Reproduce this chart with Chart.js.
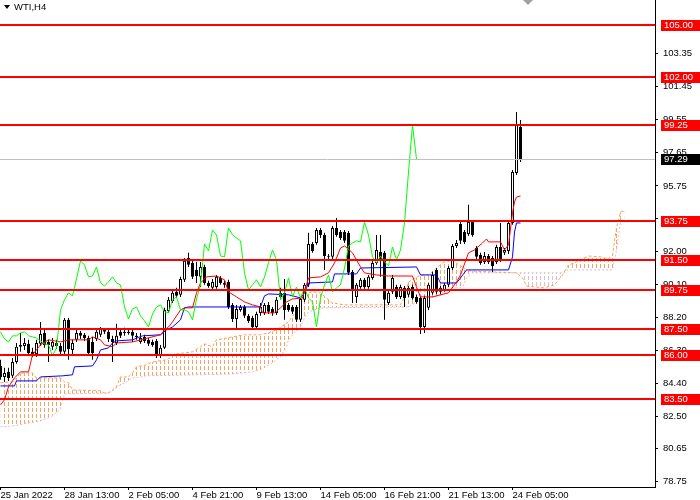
<!DOCTYPE html>
<html><head><meta charset="utf-8">
<script src="https://cdn.jsdelivr.net/npm/chart.js@4.4.0/dist/chart.umd.min.js"></script>
<style>html,body{margin:0;padding:0;background:#fff;overflow:hidden}#wrap{width:700px;height:500px;position:relative}</style>
</head><body><div id="wrap"><canvas id="c" width="700" height="500"></canvas></div>
<script>
const symbolLabel = 'WTI,H4';
// H4 candles, bar index 0 = 25 Jan 2022
const opens = [85.40,84.77,85.06,84.83,85.63,86.61,86.55,86.67,86.21,86.09,
86.67,87.30,86.78,86.50,86.72,86.55,86.21,88.05,86.32,86.90,
87.30,87.19,87.01,86.78,86.95,87.19,87.47,87.36,86.95,86.72,
87.36,87.36,87.30,87.36,87.13,86.78,87.07,86.90,86.78,86.84,
85.98,86.44,88.56,89.14,89.66,89.49,90.35,91.61,91.32,90.92,
90.52,91.09,90.17,89.89,89.94,90.46,90.17,90.23,88.91,88.10,
88.62,88.79,88.28,88.16,87.64,88.45,88.45,88.91,88.68,88.45,
89.60,89.60,88.91,88.79,88.79,88.05,89.20,90.06,92.41,92.47,
93.22,92.93,91.72,91.67,93.33,93.10,93.10,93.05,90.80,89.37,
89.94,90.35,89.94,90.46,91.32,91.95,91.90,89.02,89.66,89.94,
89.37,89.89,89.49,89.94,89.37,89.31,87.64,88.74,89.60,90.92,
89.66,89.77,90.06,91.03,92.30,93.56,93.10,92.99,93.68,92.18,
91.78,91.38,91.72,91.61,91.38,92.24,91.90,92.01,93.62,96.49,
99.14];
const highs = [85.75,85.29,85.29,85.86,86.72,87.30,87.01,86.90,86.44,86.90,
87.93,87.47,86.90,87.01,86.90,86.72,88.16,88.16,86.90,87.47,
87.41,87.30,87.13,87.07,87.47,87.64,87.53,87.47,87.13,87.82,
87.47,87.59,87.53,87.53,87.30,87.30,87.19,87.01,86.90,86.95,
86.61,88.74,89.37,89.77,89.89,90.52,91.61,91.90,91.44,91.38,
91.38,91.21,90.29,90.40,90.63,90.57,90.29,90.35,89.02,88.91,
88.91,88.91,88.39,88.28,88.51,89.02,89.02,89.08,88.79,89.37,
89.89,90.40,89.02,88.91,88.91,89.37,90.17,93.05,92.53,93.33,
93.33,93.05,91.84,93.45,93.91,93.22,93.22,93.16,90.92,90.17,
90.46,90.46,90.63,91.44,92.93,92.93,92.01,89.71,90.63,90.06,
90.06,90.00,90.00,90.06,89.49,89.43,89.43,90.17,90.81,91.03,
90.00,90.17,91.15,92.41,92.64,93.74,93.22,94.66,93.79,92.30,
91.90,91.95,91.84,91.72,92.36,93.62,92.18,93.74,96.67,100.00,
99.54];
const lows = [84.60,84.48,84.54,84.71,85.52,86.21,86.32,86.04,85.92,85.92,
86.55,86.44,85.63,86.32,86.38,85.98,86.04,85.75,85.98,86.78,
86.95,86.84,85.98,85.75,86.84,87.07,87.24,86.78,85.63,86.61,
87.01,87.13,87.19,86.78,86.90,86.67,86.72,86.55,86.50,85.86,
85.86,86.38,88.45,89.02,89.31,89.37,90.23,91.09,90.40,90.17,
89.94,90.06,89.89,89.77,89.83,90.06,89.89,88.68,87.93,87.47,
88.51,88.16,87.87,87.47,87.47,88.28,88.33,88.39,88.28,88.33,
89.20,88.05,88.51,88.39,87.93,87.93,89.08,89.94,91.90,92.36,
92.76,90.92,91.55,91.55,92.82,92.64,92.47,90.63,89.02,89.02,
89.83,89.83,89.83,90.35,91.21,90.52,88.05,88.91,89.54,89.25,
89.25,88.79,89.37,89.20,88.97,87.24,87.30,88.62,89.49,89.54,
89.54,89.66,89.94,90.92,92.18,92.41,92.41,92.87,92.82,91.55,
91.21,91.26,91.26,90.80,91.26,91.38,91.78,91.84,93.51,96.38,
97.13];
const closes = [84.77,85.00,84.71,85.63,86.50,86.50,86.72,86.15,86.09,86.72,
87.24,86.61,86.61,86.78,86.55,86.21,88.05,86.38,86.72,87.30,
87.13,87.01,86.15,86.15,87.36,87.53,87.36,86.95,86.78,87.13,
87.13,87.30,87.36,87.13,87.07,87.01,86.84,86.67,86.61,85.98,
86.44,88.62,89.20,89.60,89.43,90.40,91.44,91.21,90.52,90.57,
91.09,90.17,90.00,90.23,90.52,90.17,90.06,88.79,88.10,88.68,
88.79,88.28,87.99,87.64,88.39,88.79,88.91,88.51,88.45,89.20,
89.37,88.62,88.62,88.51,88.05,89.25,90.06,92.41,92.01,93.22,
92.93,91.72,91.67,93.33,92.93,92.76,92.59,90.75,89.77,90.06,
90.35,89.94,90.52,91.32,92.07,91.49,89.20,89.60,90.46,89.37,
89.94,89.31,89.89,89.31,89.08,87.64,89.31,90.06,90.63,89.66,
89.89,90.06,91.03,92.30,92.47,92.59,92.53,93.68,92.93,91.67,
91.32,91.72,91.38,91.15,92.24,91.49,92.07,93.62,96.55,99.25,
97.29];

// time axis
const timeTickBars = [0,16,32,48,64,80,96,112,128];
const timeTickLabels = ['25 Jan 2022','28 Jan 13:00','2 Feb 05:00','4 Feb 21:00','9 Feb 13:00','14 Feb 05:00','16 Feb 21:00','21 Feb 13:00','24 Feb 05:00'];
// price axis
const priceTicks = [78.75,80.65,82.50,84.40,86.30,88.20,90.10,92.00,93.85,95.75,97.65,99.55,101.45,103.35];
const levels = [105.00,102.00,99.25,93.75,91.50,89.75,87.50,86.00,83.50];
const bidPrice = 97.29;
const chikouShift = 26;

// Ichimoku lines: [bar, price]
const tenkan = [[0,83.16],[1,83.45],[2,84.20],[3.5,84.71],[5,85.06],[7,85.06],[8,86.04],[10,86.61],[12,86.90],[15,86.78],[17,86.90],[22,86.90],[23,87.07],[25,86.90],[26,86.61],[28,86.50],[29,86.72],[33,86.78],[40,87.19],[41,87.47],[42,87.64],[43,87.93],[45,88.62],[46,88.74],[48,88.74],[49,89.60],[50,90.17],[51.5,90.52],[54,90.57],[56,90.35],[57,89.66],[59,89.37],[61,89.08],[63,88.91],[65,88.79],[65.5,88.45],[68.5,88.45],[70,88.74],[71.5,89.08],[73,89.25],[75.5,89.31],[77,90.46],[80,90.52],[82,90.75],[83.5,91.32],[85,92.18],[86,92.30],[88,91.90],[90,91.09],[91,90.75],[94,90.63],[97,90.57],[103,90.57],[104,89.94],[105,89.37],[108,89.37],[110,89.49],[112,89.60],[114,90.23],[115,90.63],[117,91.90],[118.5,92.07],[120.5,92.47],[121.5,92.70],[122,92.53],[125,92.53],[126,92.07],[127,92.36],[128,94.20],[128.5,94.83],[129,95.11],[130,95.17]];
const kijun = [[0,84.25],[3.5,84.25],[4,84.54],[9,84.54],[10,84.77],[15.5,84.83],[18,84.89],[18.5,85.35],[23,85.40],[24,85.75],[25,86.32],[27,86.44],[28,86.72],[29,86.84],[33,86.90],[35.5,87.13],[40,87.19],[41.5,87.47],[43,87.64],[45,88.05],[46,88.74],[47,88.79],[65,88.79],[66,89.43],[67,89.54],[72,89.49],[75,89.31],[76,89.60],[77,90.17],[83,90.23],[83.5,90.69],[89,90.69],[90,91.03],[104,91.09],[105,90.63],[109,90.63],[110,90.17],[114,90.17],[115,90.46],[116.5,90.92],[127,90.92],[128,91.67],[128.5,93.10],[129,93.62],[130,93.62]];
const senkouA = [[0,84.43],[3,84.48],[4,84.71],[5,85.00],[8,85.00],[9,84.71],[15,84.71],[16,84.48],[17,84.43],[18,84.02],[25,83.97],[26,83.85],[27,83.85],[28,84.02],[29,84.20],[30,84.77],[32,84.77],[33,85.00],[34,85.35],[36.5,85.46],[38,85.63],[41.5,85.75],[44,86.09],[48,86.21],[50,86.50],[51,86.67],[53,86.50],[54,86.90],[58,87.07],[61,87.19],[65,87.19],[67,87.30],[69,87.47],[72,87.93],[75,88.91],[76,89.54],[78,89.66],[80,89.60],[81.5,89.31],[83,89.02],[86,88.91],[100,88.91],[101,89.37],[102,90.23],[105,90.63],[107,90.63],[109,91.03],[110.5,91.32],[112,91.49],[113.5,91.38],[115.5,91.09],[117,90.86],[129,90.75],[130.5,90.46],[131.5,89.99],[136,89.89],[138.5,90.06],[140.5,90.63],[142,91.20],[144,91.38],[147,91.72],[150,91.67],[152,91.55],[153,91.78],[154,93.33],[155,94.25],[156,94.31]];
const senkouB = [[0,81.90],[3,81.95],[10,82.24],[13,82.53],[15,82.93],[16,83.79],[27,83.85],[28,83.97],[30,84.31],[31.5,84.48],[33,84.71],[35,84.77],[36.5,84.83],[50,84.89],[58,84.94],[63,85.06],[65.5,85.23],[68,85.58],[70,85.92],[71.5,86.50],[72,86.90],[73,87.19],[75,87.64],[76,88.16],[77,88.51],[80,88.74],[102,88.79],[105,89.20],[110,89.43],[111.5,89.89],[115.5,89.94],[116.5,90.46],[118,90.75],[141,90.75],[141.5,90.92],[153,90.92],[154,92.07],[155,93.68],[156,93.91]];

const canvas = document.getElementById('c');
const ctx = canvas.getContext('2d');
function hatch(color){
  const t = document.createElement('canvas'); t.width = 4; t.height = 6;
  const g = t.getContext('2d'); g.fillStyle = color; g.fillRect(0,0,1,4);
  return ctx.createPattern(t,'repeat');
}
const patA = hatch('#F4A460');
const patB = hatch('#D8BFD8');
const pts = arr => arr.map(([x,y]) => ({x, y}));
const FONT = {family:'"Liberation Sans", Arial, sans-serif', size:9.5};

const overlay = {
  id:'overlay',
  afterDatasetsDraw(chart){
    const {ctx, chartArea:a, scales:{y}} = chart;
    ctx.save();
    ctx.beginPath(); ctx.rect(a.left, a.top, a.right-a.left, a.bottom-a.top); ctx.clip();
    const yb = Math.round(y.getPixelForValue(bidPrice)) + 0.5;
    ctx.strokeStyle = '#C0C0C0'; ctx.lineWidth = 1;
    ctx.beginPath(); ctx.moveTo(a.left, yb); ctx.lineTo(a.right, yb); ctx.stroke();
    ctx.strokeStyle = '#FF0000'; ctx.lineWidth = 2;
    levels.forEach(l => {
      const yy = Math.round(y.getPixelForValue(l));
      ctx.beginPath(); ctx.moveTo(a.left, yy); ctx.lineTo(a.right, yy); ctx.stroke();
    });
    ctx.restore();
  },
  afterDraw(chart){
    const {ctx, chartArea:a, scales:{y}} = chart;
    ctx.save();
    ctx.font = '9.5px "Liberation Sans", Arial, sans-serif';
    ctx.textBaseline = 'middle'; ctx.textAlign = 'left';
    const box = (v, col) => {
      const yy = Math.round(y.getPixelForValue(v));
      ctx.fillStyle = col; ctx.fillRect(a.right + 6, yy - 5, 39, 11);
      ctx.fillStyle = '#FFFFFF'; ctx.fillText(v.toFixed(2), a.right + 9, yy + 0.5);
    };
    levels.forEach(l => box(l, '#FF0000'));
    box(bidPrice, '#000000');
    // symbol caption
    ctx.fillStyle = '#000';
    ctx.beginPath(); ctx.moveTo(4,5); ctx.lineTo(10,5); ctx.lineTo(7,9); ctx.closePath(); ctx.fill();
    ctx.fillText(symbolLabel, 14, 7.5);
    // chart shift marker
    ctx.fillStyle = '#A0A0A0';
    ctx.beginPath(); ctx.moveTo(523,0); ctx.lineTo(533,0); ctx.lineTo(528,5); ctx.closePath(); ctx.fill();
    ctx.restore();
  }
};

new Chart(ctx, {
  type:'bar',
  data:{datasets:[
    {type:'line', label:'Tenkan', data:pts(tenkan), borderColor:'#FF0000', borderWidth:1, pointRadius:0, tension:0, fill:false, order:1},
    {type:'line', label:'Kijun', data:pts(kijun), borderColor:'#0000FF', borderWidth:1, pointRadius:0, tension:0, fill:false, order:1},
    {type:'line', label:'Chikou', data:closes.slice(chikouShift).map((c,j)=>({x:j, y:c})), borderColor:'#00FF00', borderWidth:1, pointRadius:0, tension:0, fill:false, order:0},
    {type:'bar', label:'Bodies', data:opens.map((o,i)=>({x:i, y:[o, closes[i]]})), backgroundColor:opens.map((o,i)=> closes[i] >= o ? '#FFFFFF' : '#000000'), borderColor:'#000000', borderWidth:1, borderSkipped:false, barThickness:3, grouped:false, inflateAmount:0, minBarLength:1, order:2},
    {type:'bar', label:'Wicks', data:lows.map((l,i)=>({x:i, y:[l, highs[i]]})), backgroundColor:'#000000', borderWidth:0, barThickness:1, grouped:false, inflateAmount:0, order:3},
    {type:'line', label:'Senkou A', data:pts(senkouA), borderColor:'#F4A460', borderWidth:1, borderDash:[3,2], pointRadius:0, tension:0, fill:{target:'+1', above:patA, below:patB}, order:4},
    {type:'line', label:'Senkou B', data:pts(senkouB), borderColor:'#D8BFD8', borderWidth:1, borderDash:[2,2], pointRadius:0, tension:0, fill:false, order:5}
  ]},
  options:{
    responsive:false, animation:false, devicePixelRatio:1,
    layout:{padding:0},
    plugins:{legend:{display:false}, tooltip:{enabled:false}},
    scales:{
      x:{type:'linear', min:-0.125, max:163.625, offset:false,
        grid:{display:true, drawOnChartArea:false, drawTicks:true, tickLength:3, color:'#000', offset:false},
        border:{display:true, color:'#000'},
        ticks:{autoSkip:false, maxRotation:0, minRotation:0, align:'start', padding:0, color:'#000', font:FONT,
          callback:(v,i)=>timeTickLabels[i]},
        afterBuildTicks:s=>{ s.ticks = timeTickBars.map(v=>({value:v})); },
        afterFit:s=>{ s.height = 13; s.paddingLeft = 0; s.paddingRight = 0; }
      },
      y:{position:'right', min:78.44, max:106.437,
        grid:{display:true, drawOnChartArea:false, drawTicks:true, tickLength:3, color:'#000'},
        border:{display:true, color:'#000'},
        ticks:{padding:5, color:'#000', font:FONT, callback:v=>Number(v).toFixed(2)},
        afterBuildTicks:s=>{ s.ticks = priceTicks.map(v=>({value:v})); },
        afterFit:s=>{ s.width = 45; s.paddingTop = 0; s.paddingBottom = 0; }
      }
    }
  },
  plugins:[overlay]
});
</script></body></html>
